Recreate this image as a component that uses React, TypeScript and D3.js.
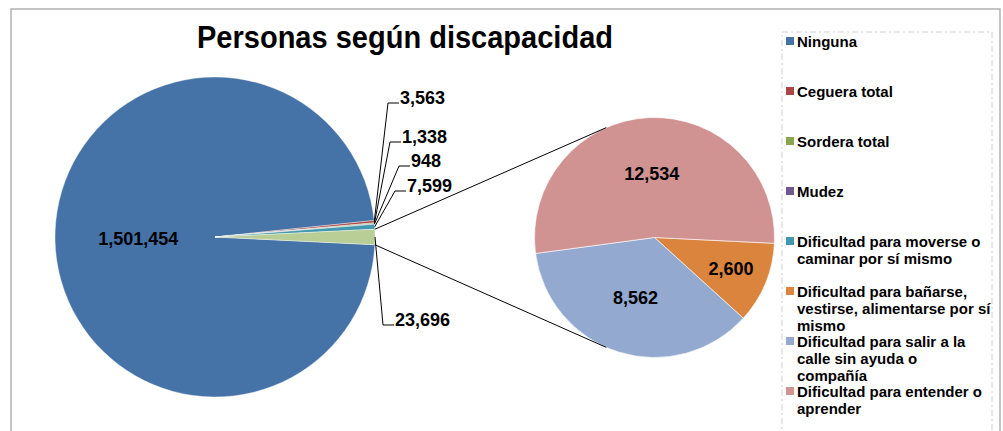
import * as d3 from 'd3';

const categories = [
  'Ninguna',
  'Ceguera total',
  'Sordera total',
  'Mudez',
  'Dificultad para moverse o caminar por sí mismo',
  'Dificultad para bañarse, vestirse, alimentarse por sí mismo',
  'Dificultad para salir a la calle sin ayuda o compañía',
  'Dificultad para entender o aprender',
];
const values = [1501454, 3563, 1338, 948, 7599, 2600, 8562, 12534];
const colors = ['#4572A7', '#AA4643', '#89A54E', '#71588F', '#4198AF', '#DB843D', '#93A9CF', '#D19392'];
const otherColor = '#B9CD96';
// legend text broken the way the original wraps it
const legendLines = [
  ['Ninguna'],
  ['Ceguera total'],
  ['Sordera total'],
  ['Mudez'],
  ['Dificultad para moverse o', 'caminar por sí mismo'],
  ['Dificultad para bañarse,', 'vestirse, alimentarse por sí', 'mismo'],
  ['Dificultad para salir a la', 'calle sin ayuda o', 'compañía'],
  ['Dificultad para entender o', 'aprender'],
];
const secondaryCount = 3; // last three go to the small pie

// where the outside labels of the big pie sit (index into main slices)
const outsideLabelPos: Record<number, { x: number; y: number }> = {
  1: { x: 400, y: 98 },
  2: { x: 402, y: 137 },
  3: { x: 411, y: 161 },
  4: { x: 407, y: 186 },
  5: { x: 395, y: 320 },
};

type Slice = { label: string; value: number; color: string };

const W = 1003;
const H = 431;
const main = { cx: 215, cy: 237, r: 160 };
const sec = { cx: 654.5, cy: 237.5, r: 120 };
const fmt = d3.format(',');

export default function App() {
  const nMain = values.length - secondaryCount;
  const mainData: Slice[] = values.slice(0, nMain).map((v, i) => ({ label: categories[i], value: v, color: colors[i] }));
  const otherValue = d3.sum(values.slice(nMain));
  mainData.push({ label: 'Otros', value: otherValue, color: otherColor });
  const secData: Slice[] = values.slice(nMain).map((v, i) => ({
    label: categories[nMain + i],
    value: v,
    color: colors[nMain + i],
  }));

  const total = d3.sum(mainData, (d) => d.value);
  const otherAngle = (2 * Math.PI * otherValue) / total;
  const start = Math.PI / 2 + otherAngle / 2;

  const mainArcs = d3
    .pie<Slice>()
    .sort(null)
    .value((d) => d.value)
    .startAngle(start)
    .endAngle(start + 2 * Math.PI)(mainData);
  const secArcs = d3
    .pie<Slice>()
    .sort(null)
    .value((d) => d.value)
    .startAngle(start)
    .endAngle(start + 2 * Math.PI)(secData);

  const mainArc = d3.arc<d3.PieArcDatum<Slice>>().innerRadius(0).outerRadius(main.r);
  const secArc = d3.arc<d3.PieArcDatum<Slice>>().innerRadius(0).outerRadius(sec.r);

  const pt = (c: { cx: number; cy: number }, r: number, a: number) => [c.cx + r * Math.sin(a), c.cy - r * Math.cos(a)];

  // connector lines between the "other" slice and the small pie
  const otherArc = mainArcs[mainArcs.length - 1];
  const tA = (23.7 * Math.PI) / 180;
  const c1a = pt(main, main.r, otherArc.startAngle);
  const c1b = pt(sec, sec.r, 2 * Math.PI - tA);
  const c2a = pt(main, main.r, otherArc.endAngle);
  const c2b = pt(sec, sec.r, Math.PI + tA);

  const labelFont = { fontFamily: "'Liberation Sans', Arial, sans-serif", fontWeight: 'bold' as const };

  return (
    <svg width={W} height={H} style={{ position: 'absolute', left: 0, top: 0, display: 'block', background: '#fff' }}>
      <rect x={11} y={9} width={989} height={450} fill="#fff" stroke="#a6a6a6" strokeWidth={1.3} />
      <text
        x={405}
        y={48}
        textAnchor="middle"
        fontSize={31}
        textLength={416}
        lengthAdjust="spacingAndGlyphs"
        {...labelFont}
      >
        Personas según discapacidad
      </text>

      {/* big pie */}
      <g transform={`translate(${main.cx},${main.cy})`}>
        {mainArcs.map((a, i) => (
          <path key={i} d={mainArc(a) || ''} fill={a.data.color} stroke="#fff" strokeWidth={0.4} />
        ))}
      </g>
      {/* small pie */}
      <g transform={`translate(${sec.cx},${sec.cy})`}>
        {secArcs.map((a, i) => (
          <path key={i} d={secArc(a) || ''} fill={a.data.color} stroke="#fff" strokeWidth={0.6} />
        ))}
      </g>

      <line x1={c1a[0]} y1={c1a[1]} x2={c1b[0]} y2={c1b[1]} stroke="#000" strokeWidth={1} />
      <line x1={c2a[0]} y1={c2a[1]} x2={c2b[0]} y2={c2b[1]} stroke="#000" strokeWidth={1} />

      {/* inside label of the big slice */}
      {(() => {
        const a = mainArcs[0];
        const [x, y] = pt(main, main.r * 0.48, (a.startAngle + a.endAngle) / 2);
        return (
          <text x={x} y={y} textAnchor="middle" dominantBaseline="central" fontSize={18} {...labelFont}>
            {fmt(a.data.value)}
          </text>
        );
      })()}

      {/* outside labels with leaders */}
      {mainArcs.slice(1).map((a, k) => {
        const i = k + 1;
        const p = outsideLabelPos[i];
        const [sx, sy] = pt(main, main.r, (a.startAngle + a.endAngle) / 2);
        const ex = p.x - 12;
        const ey = p.y + 5;
        return (
          <g key={i}>
            <polyline points={`${sx},${sy} ${ex},${ey} ${p.x - 1},${ey}`} fill="none" stroke="#000" strokeWidth={1} />
            <text x={p.x} y={p.y} dominantBaseline="central" fontSize={18} {...labelFont}>
              {fmt(a.data.value)}
            </text>
          </g>
        );
      })}

      {/* small pie labels */}
      {secArcs.map((a, i) => {
        const share = a.data.value / otherValue;
        const [x, y] = pt(sec, sec.r * (share < 0.2 ? 0.69 : 0.53), (a.startAngle + a.endAngle) / 2);
        return (
          <text key={i} x={x} y={y} textAnchor="middle" dominantBaseline="central" fontSize={18} {...labelFont}>
            {fmt(a.data.value)}
          </text>
        );
      })}

      {/* legend */}
      <rect x={782} y={32} width={210} height={420} fill="none" stroke="#d0d0d0" strokeWidth={1} strokeDasharray="6,3,2,3" />
      {legendLines.map((lines, i) => {
        const y0 = 41 + i * 50;
        return (
          <g key={i}>
            <rect x={786} y={y0 - 4} width={8} height={8} fill={colors[i]} />
            {lines.map((t, j) => (
              <text key={j} x={797} y={y0 + j * 17.3} dominantBaseline="central" fontSize={15} {...labelFont}>
                {t}
              </text>
            ))}
          </g>
        );
      })}
    </svg>
  );
}
